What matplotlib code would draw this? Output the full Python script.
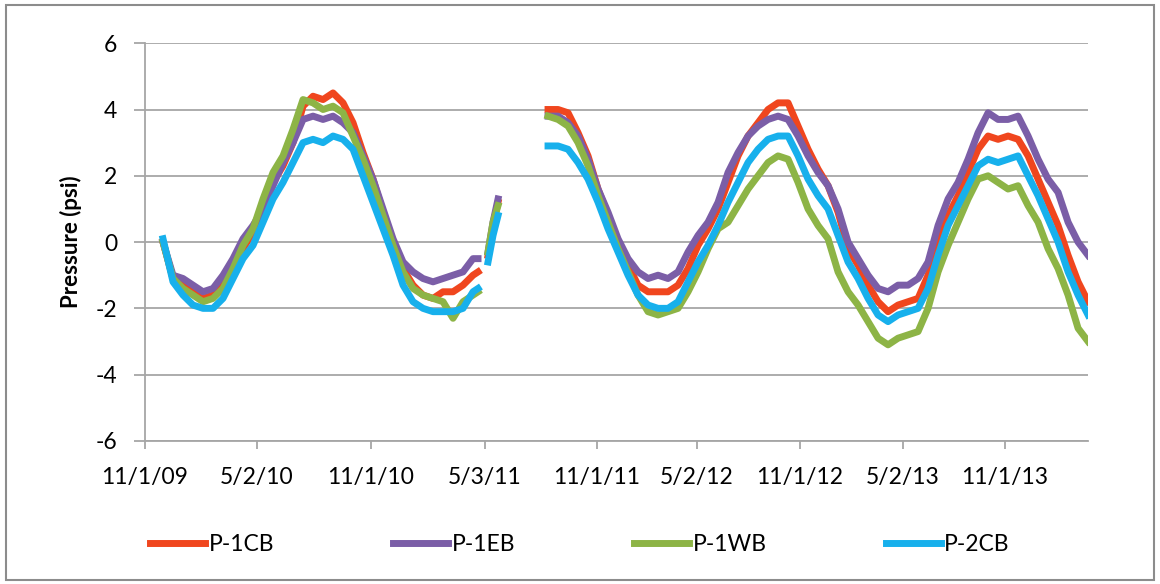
import numpy as np
import matplotlib
matplotlib.use("Agg")
import matplotlib.pyplot as plt
from matplotlib.patches import Rectangle

nan = np.nan

# position along the (category-style) x axis
x_pos = [18, 28, 38, 48, 58, 68, 78, 88, 98, 108, 118, 128, 138, 148, 158, 168, 178, 188, 198, 208,
         218, 228, 238, 248, 258, 268, 278, 288, 298, 308, 318, 328, 333,
         338,
         343, 348, 353,
         360,
         403, 413, 423, 433, 443, 453, 463, 473, 483, 493, 503, 513, 523, 533, 543, 553, 563, 573,
         583, 593, 603, 613, 623, 633, 643, 653, 663, 673, 683, 693, 703, 713, 723, 733, 743, 753,
         763, 773, 783, 793, 803, 813, 823, 833, 843, 853, 863, 873, 883, 893, 903, 913, 923, 933, 943]

p1cb = [0.0, -1.1, -1.3, -1.5, -1.7, -1.6, -1.3, -0.8, -0.2, 0.3, 1.0, 1.8, 2.3, 3.0, 4.1, 4.4, 4.3, 4.5, 4.2, 3.6,
        2.7, 1.9, 0.9, 0.0, -0.8, -1.3, -1.6, -1.7, -1.5, -1.5, -1.3, -1.0, -0.9,
        nan,
        -0.4, 0.5, 1.2,
        nan,
        4.0, 4.0, 3.9, 3.3, 2.6, 1.6, 0.8, -0.1, -0.7, -1.3, -1.5, -1.5, -1.5, -1.3, -0.8, -0.1, 0.4, 1.0,
        1.8, 2.6, 3.2, 3.6, 4.0, 4.2, 4.2, 3.5, 2.8, 2.2, 1.7, 0.9, -0.2, -0.7, -1.3, -1.8, -2.1, -1.9,
        -1.8, -1.7, -1.0, 0.0, 0.8, 1.4, 2.1, 2.8, 3.2, 3.1, 3.2, 3.1, 2.6, 1.9, 1.2, 0.5, -0.4, -1.2, -1.8]

p1eb = [0.0, -1.0, -1.1, -1.3, -1.5, -1.4, -1.0, -0.5, 0.1, 0.5, 1.0, 1.7, 2.4, 3.0, 3.7, 3.8, 3.7, 3.8, 3.6, 3.3,
        2.6, 1.9, 1.0, 0.1, -0.6, -0.9, -1.1, -1.2, -1.1, -1.0, -0.9, -0.5, -0.5,
        nan,
        -0.3, 0.6, 1.3,
        nan,
        3.8, 3.8, 3.6, 3.2, 2.5, 1.6, 0.9, 0.1, -0.5, -0.9, -1.1, -1.0, -1.1, -0.9, -0.3, 0.2, 0.6, 1.2,
        2.1, 2.7, 3.2, 3.5, 3.7, 3.8, 3.7, 3.2, 2.6, 2.1, 1.7, 1.0, 0.0, -0.5, -1.0, -1.4, -1.5, -1.3,
        -1.3, -1.1, -0.6, 0.5, 1.3, 1.8, 2.5, 3.3, 3.9, 3.7, 3.7, 3.8, 3.2, 2.5, 1.9, 1.5, 0.6, 0.0, -0.4]

p1wb = [0.0, -1.1, -1.4, -1.6, -1.8, -1.7, -1.4, -0.8, -0.1, 0.4, 1.3, 2.1, 2.6, 3.4, 4.3, 4.2, 4.0, 4.1, 3.9, 3.2,
        2.5, 1.7, 0.8, -0.1, -0.9, -1.4, -1.6, -1.7, -1.8, -2.3, -1.8, -1.6, -1.5,
        nan,
        -0.3, 0.6, 1.1,
        nan,
        3.8, 3.7, 3.5, 3.0, 2.3, 1.4, 0.6, -0.2, -0.9, -1.6, -2.1, -2.2, -2.1, -2.0, -1.5, -0.9, -0.2, 0.4,
        0.6, 1.1, 1.6, 2.0, 2.4, 2.6, 2.5, 1.8, 1.0, 0.5, 0.1, -0.9, -1.5, -1.9, -2.4, -2.9, -3.1, -2.9,
        -2.8, -2.7, -2.0, -0.9, -0.1, 0.6, 1.3, 1.9, 2.0, 1.8, 1.6, 1.7, 1.1, 0.6, -0.2, -0.8, -1.6, -2.6, -3.0]

p2cb = [0.1, -1.2, -1.6, -1.9, -2.0, -2.0, -1.7, -1.1, -0.5, -0.1, 0.6, 1.3, 1.8, 2.4, 3.0, 3.1, 3.0, 3.2, 3.1, 2.8,
        2.0, 1.2, 0.4, -0.4, -1.3, -1.8, -2.0, -2.1, -2.1, -2.1, -2.0, -1.5, -1.4,
        nan,
        -0.6, 0.2, 0.8,
        nan,
        2.9, 2.9, 2.8, 2.4, 1.9, 1.2, 0.4, -0.3, -1.0, -1.6, -1.9, -2.0, -2.0, -1.8, -1.2, -0.6, -0.1, 0.5,
        1.2, 1.8, 2.4, 2.8, 3.1, 3.2, 3.2, 2.6, 1.9, 1.4, 1.0, 0.2, -0.6, -1.1, -1.7, -2.2, -2.4, -2.2,
        -2.1, -2.0, -1.4, -0.4, 0.5, 1.1, 1.7, 2.3, 2.5, 2.4, 2.5, 2.6, 2.0, 1.4, 0.7, 0.0, -0.9, -1.6, -2.2]

series_names = ["P-1CB", "P-1EB", "P-1WB", "P-2CB"]
series_colors = ["#f0461e", "#7b5ea7", "#8db446", "#17b0ec"]

tick_pos = [0, 112, 226, 340, 452, 552, 655, 758, 860]
tick_labels = ["11/1/09", "5/2/10", "11/1/10", "5/3/11", "11/1/11",
               "5/2/12", "11/1/12", "5/2/13", "11/1/13"]

plt.rcParams['font.family'] = ['Lato', 'DejaVu Sans']
plt.rcParams['axes.unicode_minus'] = False

fig = plt.figure(figsize=(11.6, 5.84), dpi=100)
ax = fig.add_axes([0.125, 0.245, 0.813, 0.681])

for vals, name, col in zip([p1cb, p1eb, p1wb, p2cb], series_names, series_colors):
    ax.plot(x_pos, vals, color=col, lw=5, label=name, solid_joinstyle='round')

ax.set_xlim(0, 943)
ax.set_ylim(-6, 6)
ax.set_yticks([-6, -4, -2, 0, 2, 4, 6])
ax.set_xticks(tick_pos)
ax.set_xticklabels(tick_labels)
ax.grid(axis='y', color='#a6a6a6', lw=1.3)
ax.set_axisbelow(True)
for s in ['top', 'right']:
    ax.spines[s].set_visible(False)
for s in ['left', 'bottom']:
    ax.spines[s].set_color('#a6a6a6')
    ax.spines[s].set_linewidth(1.3)
ax.tick_params(axis='y', length=8, width=1.3, color='#a6a6a6', pad=12, labelsize=16.5)
ax.tick_params(axis='x', length=6, width=1.3, color='#a6a6a6', pad=13, labelsize=16.5)
ax.set_ylabel('Pressure (psi)', fontsize=16, fontweight='bold', labelpad=10)

ax.legend(loc='center', bbox_to_anchor=(0.5, 0.067), bbox_transform=fig.transFigure,
          ncol=4, frameon=False, fontsize=16.5, handlelength=2.4, handletextpad=0.15,
          columnspacing=5.2)

fig.patches.append(Rectangle((0.005, 0.006), 0.99, 0.986, transform=fig.transFigure,
                             fill=False, edgecolor='#8c8c8c', lw=1.5))

fig.savefig('out.png', dpi=100)
